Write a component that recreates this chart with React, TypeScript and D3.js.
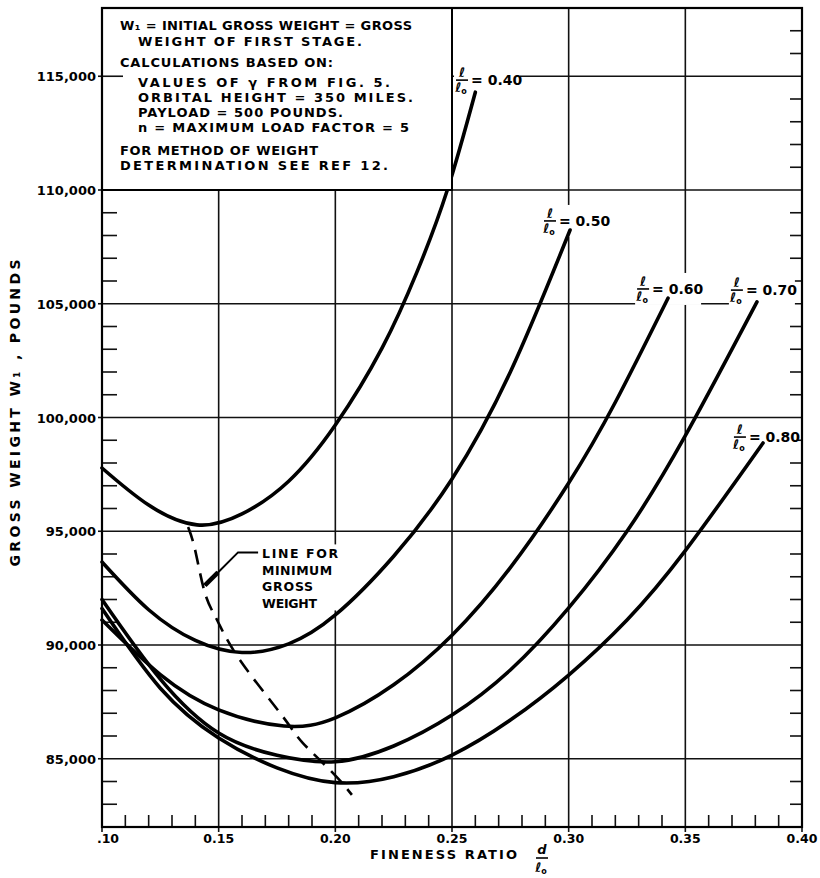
import React from "react";
import * as d3 from "d3";

// ---- data ----
const ratioLabels = ["0.40", "0.50", "0.60", "0.70", "0.80"];

const fineness40 = [0.10, 0.12, 0.1407, 0.16, 0.18, 0.20, 0.22, 0.235, 0.248, 0.26];
const weight40 = [97780, 96150, 95280, 95760, 97200, 99670, 103050, 106400, 110000, 114300];

const fineness50 = [0.10, 0.12, 0.14, 0.16, 0.18, 0.20, 0.225, 0.25, 0.275, 0.3006];
const weight50 = [93650, 91550, 90200, 89670, 90050, 91320, 93900, 97300, 102000, 108240];

const fineness60 = [0.10, 0.125, 0.15, 0.178, 0.20, 0.225, 0.25, 0.275, 0.30, 0.32, 0.3426];
const weight60 = [91100, 88700, 87150, 86440, 86800, 88250, 90430, 93400, 97120, 100670, 105250];

const fineness70 = [0.10, 0.125, 0.15, 0.175, 0.20, 0.225, 0.25, 0.275, 0.30, 0.325, 0.35, 0.3807];
const weight70 = [92000, 88500, 86130, 85150, 84870, 85560, 86920, 88900, 91630, 95000, 99200, 105080];

const fineness80 = [0.10, 0.125, 0.15, 0.175, 0.20, 0.225, 0.25, 0.275, 0.30, 0.325, 0.35, 0.3833];
const weight80 = [91600, 88100, 85910, 84600, 83950, 84210, 85160, 86700, 88680, 91100, 94150, 98880];

// dashed "line for minimum gross weight"
const minLineFineness = [0.1369, 0.1399, 0.1441, 0.1493, 0.1591, 0.1776, 0.1861, 0.199, 0.2071];
const minLineWeight = [95190, 94180, 92290, 91100, 89340, 86840, 85690, 84370, 83410];

// leader from text to dashed line
const leaderFineness = [0.1441, 0.1497, 0.1583, 0.1669];
const leaderWeight = [92620, 93190, 94070, 94070];

// curve label anchors (fraction centre / fraction bar)
const labelFineness = [0.2543, 0.292, 0.3319, 0.3721, 0.3734];
const labelWeight = [114830, 108640, 105650, 105600, 99140];

const xTickValues = [0.10, 0.15, 0.20, 0.25, 0.30, 0.35, 0.40];
const xTickLabels = [".10", "0.15", "0.20", "0.25", "0.30", "0.35", "0.40"];
const yTickValues = [85000, 90000, 95000, 100000, 105000, 110000, 115000];
const yTickLabels = ["85,000", "90,000", "95,000", "100,000", "105,000", "110,000", "115,000"];

const noteLines = [
  "W₁ = INITIAL GROSS WEIGHT = GROSS",
  "WEIGHT OF FIRST STAGE.",
  "CALCULATIONS BASED ON:",
  "VALUES OF γ FROM FIG. 5.",
  "ORBITAL HEIGHT = 350 MILES.",
  "PAYLOAD = 500 POUNDS.",
  "n = MAXIMUM LOAD FACTOR = 5",
  "FOR METHOD OF WEIGHT",
  "DETERMINATION SEE REF 12.",
];
const noteIndent = [0, 1, 0, 1, 1, 1, 1, 0, 0];
const noteBaseline = [30, 46, 67, 87, 102, 117, 132, 155, 170];
const noteWidth = [292, 224, 213, 252, 275, 205, 271, 198, 268];

const leaderText = ["LINE FOR", "MINIMUM", "GROSS", "WEIGHT"];
const leaderTextWidth = [76, 70, 51, 55];

// ---- layout ----
const W = 820;
const H = 878;
const FONT = "'DejaVu Sans', 'Liberation Sans', sans-serif";

const x = d3.scaleLinear().domain([0.1, 0.4]).range([102, 802]);
const y = d3.scaleLinear().domain([82000, 118000]).range([827, 8]);

const lineGen = d3
  .line<[number, number]>()
  .x((d) => x(d[0]))
  .y((d) => y(d[1]))
  .curve(d3.curveNatural);

const straight = d3
  .line<[number, number]>()
  .x((d) => x(d[0]))
  .y((d) => y(d[1]))
  .curve(d3.curveLinear);

const series: [number, number][][] = [
  fineness40.map((f, i) => [f, weight40[i]]),
  fineness50.map((f, i) => [f, weight50[i]]),
  fineness60.map((f, i) => [f, weight60[i]]),
  fineness70.map((f, i) => [f, weight70[i]]),
  fineness80.map((f, i) => [f, weight80[i]]),
];

function Fraction({ cx, barY, num }: { cx: number; barY: number; num: string }) {
  return (
    <g fontFamily={FONT} fontWeight="bold">
      <text x={cx} y={barY - 3} textAnchor="middle" fontSize={13} fontStyle="italic">
        {num}
      </text>
      <line x1={cx - 6} x2={cx + 6} y1={barY} y2={barY} stroke="#000" strokeWidth={1.6} />
      <text x={cx - 1} y={barY + 12} textAnchor="middle" fontSize={13} fontStyle="italic">
        ℓ
        <tspan fontSize={8} dy={2} fontStyle="normal">
          o
        </tspan>
      </text>
    </g>
  );
}

export default function App() {
  const x0 = x(0.1);
  const x1 = x(0.4);
  const yb = y(82000);
  const yt = y(118000);

  const minorY: number[] = [];
  for (let v = 83000; v <= 117000; v += 1000) if (v % 5000 !== 0) minorY.push(v);
  const minorX: number[] = [];
  for (let i = 11; i < 40; i++) if (i % 5 !== 0) minorX.push(i / 100);

  const boxX1 = x(0.25);
  const boxY1 = y(110000);

  return (
    <svg
      width={W}
      height={H}
      style={{ position: "absolute", left: 0, top: 0, background: "#fff" }}
      fontFamily={FONT}
    >
      <rect x={0} y={0} width={W} height={H} fill="#fff" />

      {/* grid */}
      <g stroke="#111" strokeWidth={1.6}>
        {[0.15, 0.2].map((v) => (
          <line key={"gv" + v} x1={x(v)} x2={x(v)} y1={yb} y2={boxY1} />
        ))}
        {[0.25, 0.3, 0.35].map((v) => (
          <line key={"gw" + v} x1={x(v)} x2={x(v)} y1={yb} y2={yt} />
        ))}
        {yTickValues.map((v) =>
          v < 115000 ? (
            <line key={"gh" + v} x1={x0} x2={x1} y1={y(v)} y2={y(v)} />
          ) : (
            <line key={"gh" + v} x1={boxX1} x2={x1} y1={y(v)} y2={y(v)} />
          )
        )}
      </g>

      {/* minor ticks */}
      <g stroke="#111" strokeWidth={1.6}>
        {minorY
          .filter((v) => v < 110000)
          .map((v) => (
            <line key={"ml" + v} x1={x0} x2={x0 + 15} y1={y(v)} y2={y(v)} />
          ))}
        {minorY.map((v) => (
          <line key={"mr" + v} x1={x1 - 12} x2={x1} y1={y(v)} y2={y(v)} />
        ))}
        {minorX.map((v) => (
          <line key={"mb" + v} x1={x(v)} x2={x(v)} y1={yb} y2={yb - 12} />
        ))}
        {xTickValues.map((v) => (
          <line key={"Mb" + v} x1={x(v)} x2={x(v)} y1={yb} y2={yb + 5} />
        ))}
        {yTickValues.map((v) => (
          <line key={"Ml" + v} x1={x0 - 4} x2={x0} y1={y(v)} y2={y(v)} />
        ))}
      </g>

      {/* label backgrounds (break grid lines) */}
      {labelFineness.map((f, i) => {
        const cx = x(f);
        const by = y(labelWeight[i]);
        return <rect key={"bg" + i} x={cx - 8} y={by - 16} width={66} height={32} fill="#fff" />;
      })}
      <rect
        x={x(leaderFineness[3]) + 2}
        y={y(leaderWeight[3]) - 8}
        width={78}
        height={66}
        fill="#fff"
      />

      {/* curves */}
      <g fill="none" stroke="#000" strokeWidth={3.6} strokeLinecap="round">
        {series.map((s, i) => (
          <path key={"c" + i} d={lineGen(s) || ""} />
        ))}
      </g>

      {/* dashed minimum line */}
      <path
        d={lineGen(minLineFineness.map((f, i) => [f, minLineWeight[i]] as [number, number])) || ""}
        fill="none"
        stroke="#000"
        strokeWidth={2.6}
        strokeDasharray="15 9"
      />

      {/* leader */}
      <path
        d={straight(leaderFineness.map((f, i) => [f, leaderWeight[i]] as [number, number])) || ""}
        fill="none"
        stroke="#000"
        strokeWidth={2}
      />
      <path
        d={straight(leaderFineness.slice(0, 2).map((f, i) => [f, leaderWeight[i]] as [number, number])) || ""}
        fill="none"
        stroke="#000"
        strokeWidth={4.5}
      />
      <g fontWeight="bold" fontSize={12.5}>
        {leaderText.map((t, i) => (
          <text
            key={"lt" + i}
            x={x(leaderFineness[3]) + 4}
            y={y(leaderWeight[3]) + 6 + i * 16.5}
            textLength={leaderTextWidth[i]}
            lengthAdjust="spacing"
          >
            {t}
          </text>
        ))}
      </g>

      {/* curve labels */}
      {labelFineness.map((f, i) => {
        const cx = x(f);
        const by = y(labelWeight[i]);
        return (
          <g key={"lab" + i}>
            <Fraction cx={cx} barY={by} num="ℓ" />
            <text x={cx + 9} y={by + 5} fontSize={14} fontWeight="bold">
              = {ratioLabels[i]}
            </text>
          </g>
        );
      })}

      {/* note box */}
      <rect
        x={x0}
        y={yt}
        width={boxX1 - x0}
        height={boxY1 - yt}
        fill="#fff"
        stroke="#000"
        strokeWidth={2}
      />
      <line x1={x0} x2={x0 + 21} y1={y(115000)} y2={y(115000)} stroke="#111" strokeWidth={1.6} />
      <g fontWeight="bold" fontSize={13}>
        {noteLines.map((t, i) => (
          <text
            key={"n" + i}
            x={x0 + 18 + noteIndent[i] * 18}
            y={noteBaseline[i]}
            textLength={noteWidth[i]}
            lengthAdjust="spacing"
          >
            {t}
          </text>
        ))}
      </g>

      {/* frame */}
      <rect x={x0} y={yt} width={x1 - x0} height={yb - yt} fill="none" stroke="#000" strokeWidth={2.2} />

      {/* tick labels */}
      <g fontWeight="bold" fontSize={12.5}>
        {yTickValues.map((v, i) => (
          <text key={"yl" + i} x={x0 - 6} y={y(v) + 5} textAnchor="end" fontSize={13}>
            {yTickLabels[i]}
          </text>
        ))}
        {xTickValues.map((v, i) => (
          <text key={"xl" + i} x={x(v) + (i === 0 ? 6 : 0)} y={yb + 16} textAnchor="middle">
            {xTickLabels[i]}
          </text>
        ))}
      </g>

      {/* axis titles */}
      <text
        transform="translate(20,413) rotate(-90)"
        textAnchor="middle"
        fontWeight="bold"
        fontSize={14}
        textLength={307}
        lengthAdjust="spacing"
      >
        GROSS WEIGHT W₁ , POUNDS
      </text>
      <text x={370} y={yb + 32} fontWeight="bold" fontSize={13} textLength={147} lengthAdjust="spacing">
        FINENESS RATIO
      </text>
      <g fontWeight="bold" fontStyle="italic">
        <text x={542} y={yb + 27} textAnchor="middle" fontSize={13}>
          d
        </text>
        <line x1={536} x2={548} y1={yb + 31} y2={yb + 31} stroke="#000" strokeWidth={1.6} />
        <text x={541} y={yb + 45} textAnchor="middle" fontSize={13}>
          ℓ
          <tspan fontSize={8} dy={2} fontStyle="normal">
            o
          </tspan>
        </text>
      </g>
    </svg>
  );
}
